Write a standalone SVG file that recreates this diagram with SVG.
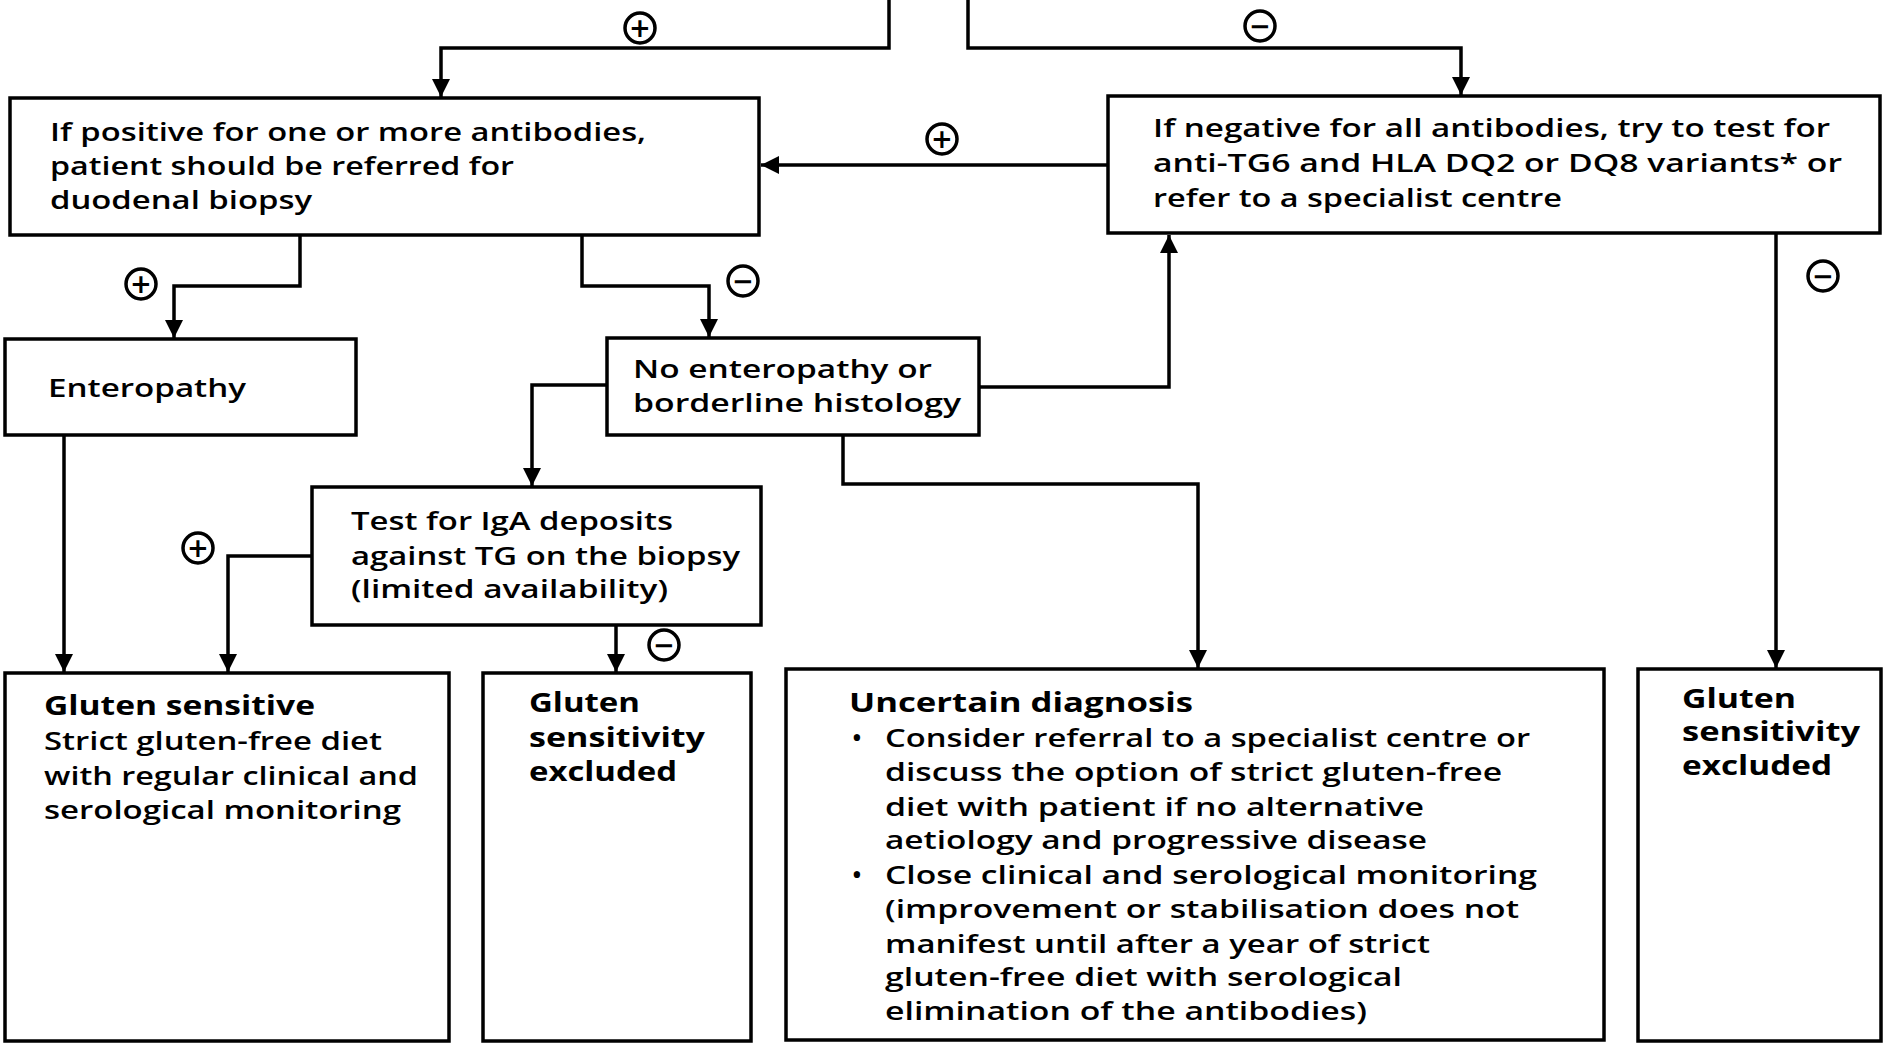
<svg xmlns="http://www.w3.org/2000/svg" width="1884" height="1044" viewBox="0 0 1884 1044">
<defs>
<marker id="arr" viewBox="0 0 10 10" refX="10" refY="5" markerWidth="18" markerHeight="18" markerUnits="userSpaceOnUse" orient="auto">
<path d="M0,0 L10,5 L0,10 z" fill="#000"/>
</marker>
<style>
.box{fill:#fff;stroke:#000;stroke-width:3.5}
.t{font-family:"Open Sans","Liberation Sans",sans-serif;font-size:26px;font-weight:600;fill:#000}
.h{font-weight:700}
.c{fill:none;stroke:#000;stroke-width:3.5}
.sg{fill:#fff;stroke:#000;stroke-width:3.5}
.sym{font-family:"DejaVu Sans","Liberation Sans",sans-serif;font-size:26px;font-weight:700;fill:#000;text-anchor:middle}
</style>
</defs>
<rect x="0" y="0" width="1884" height="1044" fill="#fff"/>

<g id="connectors">
<polyline class="c" points="889,0 889,48 441,48 441,97" marker-end="url(#arr)"/>
<polyline class="c" points="968,0 968,48 1461,48 1461,95" marker-end="url(#arr)"/>
<line class="c" x1="1108" y1="165" x2="761" y2="165" marker-end="url(#arr)"/>
<polyline class="c" points="300,235 300,286 174,286 174,338" marker-end="url(#arr)"/>
<polyline class="c" points="582,235 582,286 709,286 709,337" marker-end="url(#arr)"/>
<polyline class="c" points="979,387 1169,387 1169,235" marker-end="url(#arr)"/>
<polyline class="c" points="607,385 532,385 532,486" marker-end="url(#arr)"/>
<polyline class="c" points="843,435 843,484 1198,484 1198,668" marker-end="url(#arr)"/>
<polyline class="c" points="312,556 228,556 228,672" marker-end="url(#arr)"/>
<line class="c" x1="616" y1="625" x2="616" y2="672" marker-end="url(#arr)"/>
<line class="c" x1="64" y1="435" x2="64" y2="672" marker-end="url(#arr)"/>
<line class="c" x1="1776" y1="233" x2="1776" y2="668" marker-end="url(#arr)"/>
<g id="signs">
<circle class="sg" cx="640" cy="28" r="15"/><text class="sym" x="640" y="37">+</text>
<circle class="sg" cx="1260" cy="26" r="15"/><text class="sym" x="1260" y="35">−</text>
<circle class="sg" cx="942" cy="139" r="15"/><text class="sym" x="942" y="148">+</text>
<circle class="sg" cx="141" cy="284" r="15"/><text class="sym" x="141" y="293">+</text>
<circle class="sg" cx="743" cy="281" r="15"/><text class="sym" x="743" y="290">−</text>
<circle class="sg" cx="198" cy="548" r="15"/><text class="sym" x="198" y="557">+</text>
<circle class="sg" cx="664" cy="645" r="15"/><text class="sym" x="664" y="654">−</text>
<circle class="sg" cx="1823" cy="276" r="15"/><text class="sym" x="1823" y="285">−</text>
</g>
</g>

<g id="positive">
<rect class="box" x="10" y="98" width="749" height="137"/>
<text class="t" x="50" y="141" textLength="596" lengthAdjust="spacingAndGlyphs">If positive for one or more antibodies,</text>
<text class="t" x="50" y="175" textLength="464" lengthAdjust="spacingAndGlyphs">patient should be referred for</text>
<text class="t" x="50" y="209" textLength="262" lengthAdjust="spacingAndGlyphs">duodenal biopsy</text>
</g>

<g id="negative">
<rect class="box" x="1108" y="96" width="772" height="137"/>
<text class="t" x="1153" y="137" textLength="677" lengthAdjust="spacingAndGlyphs">If negative for all antibodies, try to test for</text>
<text class="t" x="1153" y="172" textLength="689" lengthAdjust="spacingAndGlyphs">anti-TG6 and HLA DQ2 or DQ8 variants* or</text>
<text class="t" x="1153" y="207" textLength="409" lengthAdjust="spacingAndGlyphs">refer to a specialist centre</text>
</g>

<g id="enteropathy">
<rect class="box" x="5" y="339" width="351" height="96"/>
<text class="t" x="48" y="397" textLength="198" lengthAdjust="spacingAndGlyphs">Enteropathy</text>
</g>

<g id="noenteropathy">
<rect class="box" x="607" y="338" width="372" height="97"/>
<text class="t" x="633" y="378" textLength="299" lengthAdjust="spacingAndGlyphs">No enteropathy or</text>
<text class="t" x="633" y="412" textLength="328" lengthAdjust="spacingAndGlyphs">borderline histology</text>
</g>

<g id="testiga">
<rect class="box" x="312" y="487" width="449" height="138"/>
<text class="t" x="351" y="530" textLength="322" lengthAdjust="spacingAndGlyphs">Test for IgA deposits</text>
<text class="t" x="351" y="565" textLength="389" lengthAdjust="spacingAndGlyphs">against TG on the biopsy</text>
<text class="t" x="351" y="598" textLength="317" lengthAdjust="spacingAndGlyphs">(limited availability)</text>
</g>

<g id="glutensensitive">
<rect class="box" x="5" y="673" width="444" height="368"/>
<text class="t h" x="44" y="715" textLength="271" lengthAdjust="spacingAndGlyphs">Gluten sensitive</text>
<text class="t" x="44" y="750" textLength="338" lengthAdjust="spacingAndGlyphs">Strict gluten-free diet</text>
<text class="t" x="44" y="785" textLength="374" lengthAdjust="spacingAndGlyphs">with regular clinical and</text>
<text class="t" x="44" y="819" textLength="357" lengthAdjust="spacingAndGlyphs">serological monitoring</text>
</g>

<g id="excluded1">
<rect class="box" x="483" y="673" width="268" height="368"/>
<text class="t h" x="529" y="712" textLength="111" lengthAdjust="spacingAndGlyphs">Gluten</text>
<text class="t h" x="529" y="747" textLength="176" lengthAdjust="spacingAndGlyphs">sensitivity</text>
<text class="t h" x="529" y="781" textLength="148" lengthAdjust="spacingAndGlyphs">excluded</text>
</g>

<g id="uncertain">
<rect class="box" x="786" y="669" width="818" height="371"/>
<text class="t h" x="849" y="712" textLength="344" lengthAdjust="spacingAndGlyphs">Uncertain diagnosis</text>
<text class="t" x="852" y="747">•</text>
<text class="t" x="885" y="747" textLength="645" lengthAdjust="spacingAndGlyphs">Consider referral to a specialist centre or</text>
<text class="t" x="885" y="781" textLength="617" lengthAdjust="spacingAndGlyphs">discuss the option of strict gluten-free</text>
<text class="t" x="885" y="816" textLength="539" lengthAdjust="spacingAndGlyphs">diet with patient if no alternative</text>
<text class="t" x="885" y="849" textLength="542" lengthAdjust="spacingAndGlyphs">aetiology and progressive disease</text>
<text class="t" x="852" y="884">•</text>
<text class="t" x="885" y="884" textLength="652" lengthAdjust="spacingAndGlyphs">Close clinical and serological monitoring</text>
<text class="t" x="885" y="918" textLength="634" lengthAdjust="spacingAndGlyphs">(improvement or stabilisation does not</text>
<text class="t" x="885" y="953" textLength="545" lengthAdjust="spacingAndGlyphs">manifest until after a year of strict</text>
<text class="t" x="885" y="986" textLength="517" lengthAdjust="spacingAndGlyphs">gluten-free diet with serological</text>
<text class="t" x="885" y="1020" textLength="482" lengthAdjust="spacingAndGlyphs">elimination of the antibodies)</text>
</g>

<g id="excluded2">
<rect class="box" x="1638" y="669" width="243" height="372"/>
<text class="t h" x="1682" y="708" textLength="114" lengthAdjust="spacingAndGlyphs">Gluten</text>
<text class="t h" x="1682" y="741" textLength="178" lengthAdjust="spacingAndGlyphs">sensitivity</text>
<text class="t h" x="1682" y="775" textLength="150" lengthAdjust="spacingAndGlyphs">excluded</text>
</g>
</svg>
